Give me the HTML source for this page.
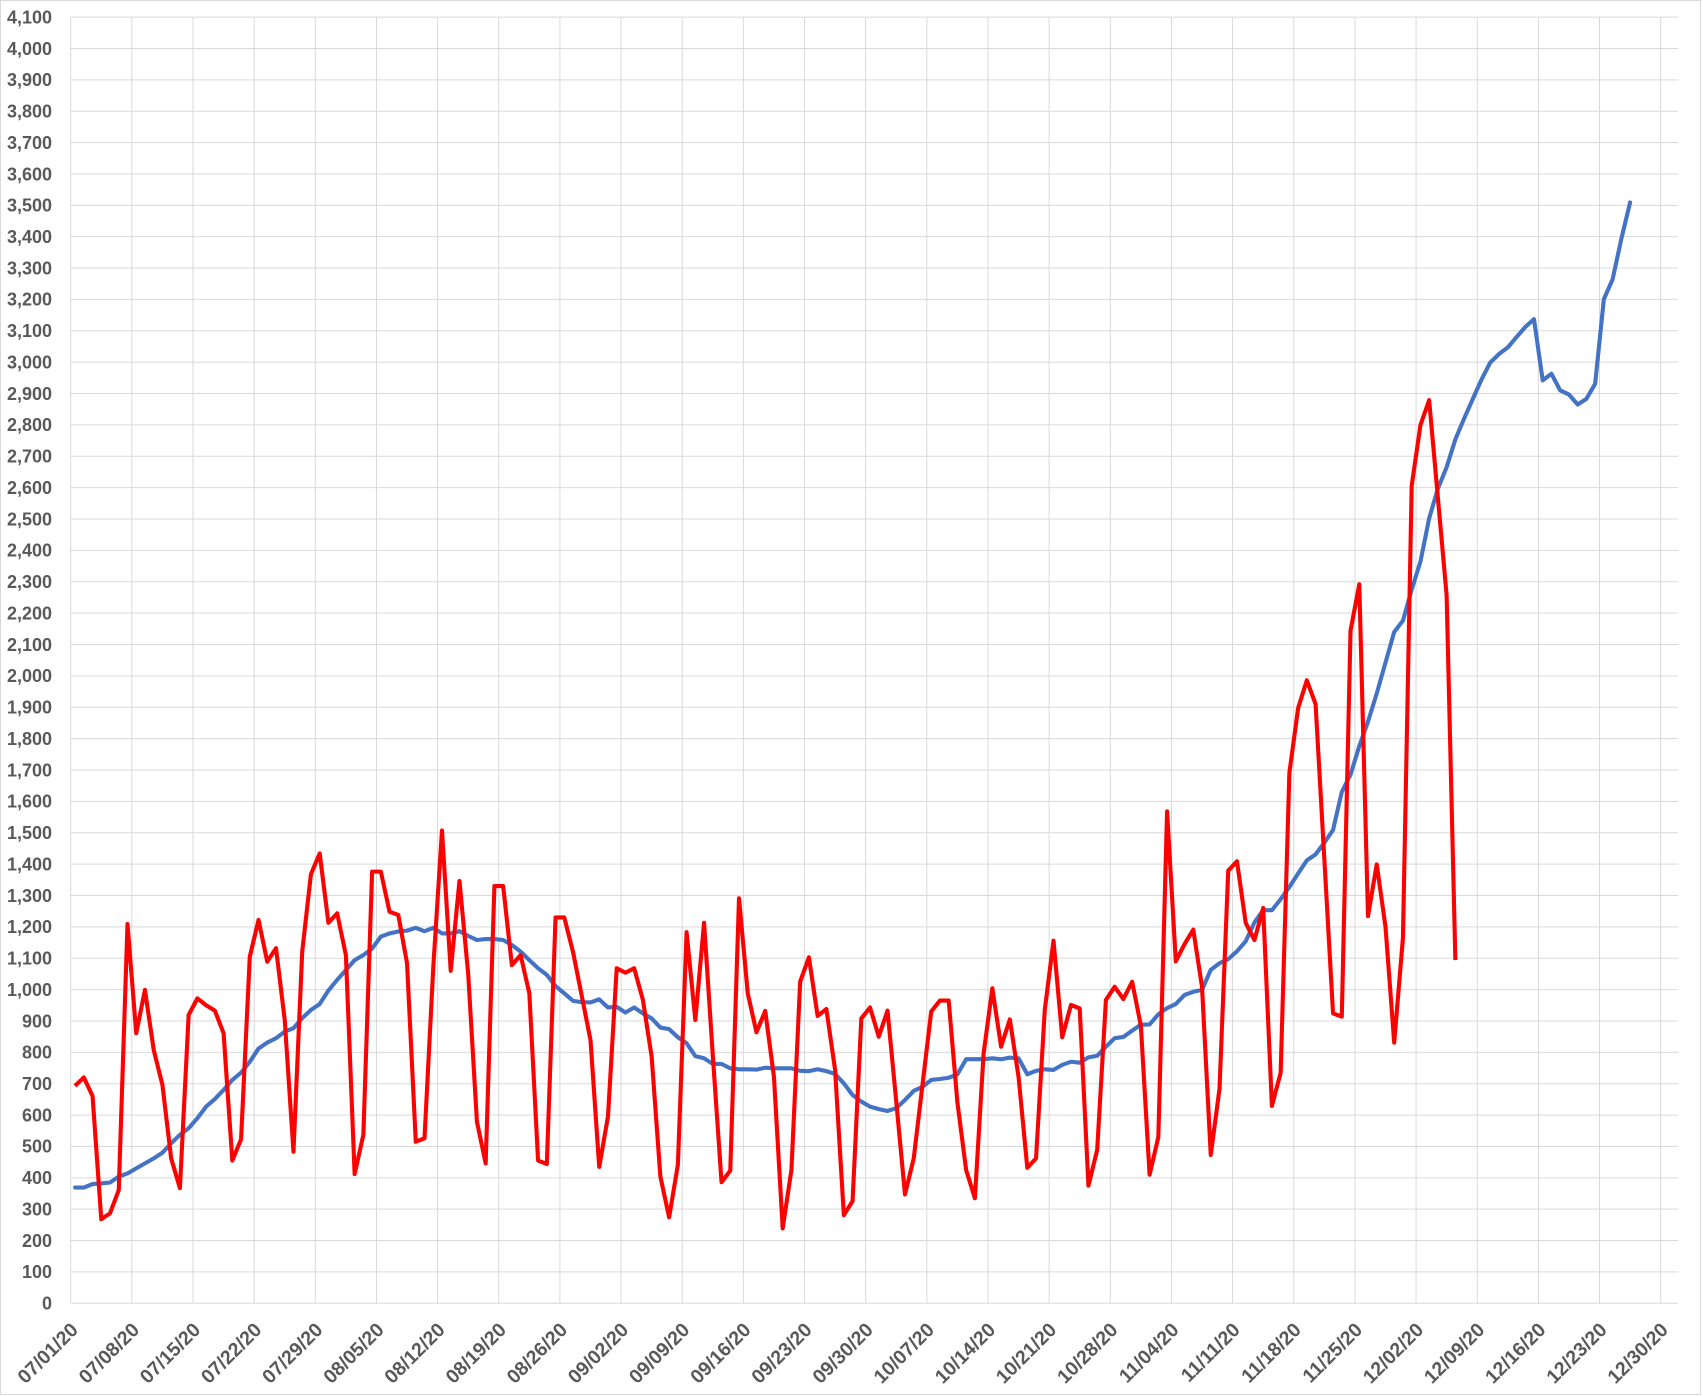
<!DOCTYPE html>
<html>
<head>
<meta charset="utf-8">
<style>
html,body{margin:0;padding:0;background:#fff;}
svg{display:block;}
text{font-family:"Liberation Sans",Arial,sans-serif;font-weight:bold;fill:#595959;}
</style>
</head>
<body>
<svg width="1703" height="1396" viewBox="0 0 1703 1396" xmlns="http://www.w3.org/2000/svg">
<rect x="0" y="0" width="1703" height="1396" fill="#ffffff"/>
<rect x="0.5" y="0.5" width="1700" height="1394" fill="none" stroke="#d9d9d9" stroke-width="1"/>

<g transform="matrix(8.736 0 0 -0.31371 75.07 1303.3)">
<path fill="none" stroke="#d9d9d9" stroke-width="1" vector-effect="non-scaling-stroke" d="M-0.5 0H183.5M-0.5 100H183.5M-0.5 200H183.5M-0.5 300H183.5M-0.5 400H183.5M-0.5 500H183.5M-0.5 600H183.5M-0.5 700H183.5M-0.5 800H183.5M-0.5 900H183.5M-0.5 1000H183.5M-0.5 1100H183.5M-0.5 1200H183.5M-0.5 1300H183.5M-0.5 1400H183.5M-0.5 1500H183.5M-0.5 1600H183.5M-0.5 1700H183.5M-0.5 1800H183.5M-0.5 1900H183.5M-0.5 2000H183.5M-0.5 2100H183.5M-0.5 2200H183.5M-0.5 2300H183.5M-0.5 2400H183.5M-0.5 2500H183.5M-0.5 2600H183.5M-0.5 2700H183.5M-0.5 2800H183.5M-0.5 2900H183.5M-0.5 3000H183.5M-0.5 3100H183.5M-0.5 3200H183.5M-0.5 3300H183.5M-0.5 3400H183.5M-0.5 3500H183.5M-0.5 3600H183.5M-0.5 3700H183.5M-0.5 3800H183.5M-0.5 3900H183.5M-0.5 4000H183.5M-0.5 4100H183.5"/>
<path fill="none" stroke="#d9d9d9" stroke-width="1" vector-effect="non-scaling-stroke" d="M-0.5 0V4100M6.5 0V4100M13.5 0V4100M20.5 0V4100M27.5 0V4100M34.5 0V4100M41.5 0V4100M48.5 0V4100M55.5 0V4100M62.5 0V4100M69.5 0V4100M76.5 0V4100M83.5 0V4100M90.5 0V4100M97.5 0V4100M104.5 0V4100M111.5 0V4100M118.5 0V4100M125.5 0V4100M132.5 0V4100M139.5 0V4100M146.5 0V4100M153.5 0V4100M160.5 0V4100M167.5 0V4100M174.5 0V4100M181.5 0V4100"/>

<polyline fill="none" stroke="#4472C4" stroke-width="4.1" stroke-linejoin="round" stroke-linecap="round" vector-effect="non-scaling-stroke" points="0,369 1,369 2,380 3,382 4,385 5,404 6,414 7,430 8,446 9,462 10,480 11,510 12,537 13,558 14,590 15,627 16,651 17,680 18,712 19,735 20,770 21,812 22,831 23,845 24,866 25,877 26,909 27,935 28,954 29,997 30,1031 31,1062 32,1094 33,1110 34,1131 35,1169 36,1179 37,1185 38,1188 39,1197 40,1186 41,1197 42,1179 43,1179 44,1186 45,1171 46,1158 47,1161 48,1161 49,1158 50,1142 51,1121 52,1094 53,1068 54,1047 55,1011 56,988 57,964 58,960 59,959 60,969 61,943 62,945 63,927 64,943 65,924 66,908 67,879 68,874 69,848 70,829 71,788 72,781 73,763 74,763 75,749 76,746 77,746 78,745 79,751 80,749 81,749 82,749 83,741 84,740 85,746 86,740 87,731 88,701 89,664 90,643 91,627 92,619 93,613 94,622 95,648 96,677 97,690 98,712 99,715 100,719 101,730 102,778 103,778 104,778 105,781 106,778 107,783 108,781 109,730 110,741 111,746 112,744 113,760 114,770 115,767 116,784 117,789 118,818 119,845 120,849 121,869 122,888 123,889 124,921 125,941 126,954 127,983 128,993 129,999 130,1063 131,1084 132,1097 133,1122 134,1154 135,1214 136,1253 137,1253 138,1288 139,1327 140,1370 141,1412 142,1431 143,1468 144,1509 145,1630 146,1685 147,1776 148,1854 149,1944 150,2042 151,2140 152,2176 153,2275 154,2364 155,2502 156,2597 157,2665 158,2754 159,2820 160,2883 161,2945 162,2999 163,3026 164,3047 165,3080 166,3112 167,3137 168,2942 169,2963 170,2910 171,2897 172,2865 173,2883 174,2931 175,3201 176,3264 177,3393 178,3509"/>

<polyline fill="none" stroke="#FF0000" stroke-width="4.1" stroke-linejoin="round" stroke-linecap="butt" vector-effect="non-scaling-stroke" points="0,693 1,720 2,661 3,268 4,287 5,361 6,1209 7,861 8,999 9,808 10,696 11,462 12,367 13,919 14,972 15,950 16,933 17,861 18,455 19,523 20,1105 21,1222 22,1089 23,1132 24,903 25,483 26,1121 27,1368 28,1434 29,1213 30,1243 31,1110 32,412 33,537 34,1376 35,1376 36,1248 37,1238 38,1084 39,515 40,526 41,1070 42,1507 43,1060 44,1346 45,1050 46,579 47,446 48,1330 49,1330 50,1078 51,1110 52,988 53,455 54,444 55,1230 56,1230 57,1120 58,980 59,839 60,435 61,595 62,1068 63,1054 64,1068 65,967 66,786 67,404 68,274 69,441 70,1183 71,903 72,1213 73,790 74,386 75,423 76,1291 77,988 78,864 79,932 80,722 81,239 82,425 83,1025 84,1103 85,916 86,938 87,744 88,281 89,326 90,908 91,943 92,850 93,933 94,643 95,347 96,462 97,696 98,930 99,965 100,965 101,640 102,425 103,335 104,797 105,1004 106,818 107,905 108,722 109,432 110,462 111,935 112,1156 113,848 114,951 115,940 116,375 117,489 118,967 119,1009 120,970 121,1025 122,885 123,410 124,530 125,1568 126,1090 127,1145 128,1191 129,1009 130,473 131,683 132,1379 133,1409 134,1213 135,1158 136,1260 137,629 138,735 139,1691 140,1897 141,1986 142,1910 143,1417 144,924 145,914 146,2144 147,2292 148,1234 149,1399 150,1201 151,831 152,1165 153,2606 154,2799 155,2879 156,2568 157,2257 158,1094"/>
</g>

<g font-size="18" text-anchor="end">
<text x="52" y="1309.6">0</text>
<text x="52" y="1278.2">100</text>
<text x="52" y="1246.9">200</text>
<text x="52" y="1215.5">300</text>
<text x="52" y="1184.1">400</text>
<text x="52" y="1152.7">500</text>
<text x="52" y="1121.4">600</text>
<text x="52" y="1090.0">700</text>
<text x="52" y="1058.6">800</text>
<text x="52" y="1027.3">900</text>
<text x="52" y="995.9">1,000</text>
<text x="52" y="964.5">1,100</text>
<text x="52" y="933.1">1,200</text>
<text x="52" y="901.8">1,300</text>
<text x="52" y="870.4">1,400</text>
<text x="52" y="839.0">1,500</text>
<text x="52" y="807.7">1,600</text>
<text x="52" y="776.3">1,700</text>
<text x="52" y="744.9">1,800</text>
<text x="52" y="713.6">1,900</text>
<text x="52" y="682.2">2,000</text>
<text x="52" y="650.8">2,100</text>
<text x="52" y="619.4">2,200</text>
<text x="52" y="588.1">2,300</text>
<text x="52" y="556.7">2,400</text>
<text x="52" y="525.3">2,500</text>
<text x="52" y="494.0">2,600</text>
<text x="52" y="462.6">2,700</text>
<text x="52" y="431.2">2,800</text>
<text x="52" y="399.8">2,900</text>
<text x="52" y="368.5">3,000</text>
<text x="52" y="337.1">3,100</text>
<text x="52" y="305.7">3,200</text>
<text x="52" y="274.4">3,300</text>
<text x="52" y="243.0">3,400</text>
<text x="52" y="211.6">3,500</text>
<text x="52" y="180.3">3,600</text>
<text x="52" y="148.9">3,700</text>
<text x="52" y="117.5">3,800</text>
<text x="52" y="86.1">3,900</text>
<text x="52" y="54.8">4,000</text>
<text x="52" y="23.4">4,100</text>
</g>

<g font-size="19.5" text-anchor="end">
<text x="79.2" y="1331" transform="rotate(-45 79.2 1331)">07/01/20</text>
<text x="140.4" y="1331" transform="rotate(-45 140.4 1331)">07/08/20</text>
<text x="201.5" y="1331" transform="rotate(-45 201.5 1331)">07/15/20</text>
<text x="262.7" y="1331" transform="rotate(-45 262.7 1331)">07/22/20</text>
<text x="323.8" y="1331" transform="rotate(-45 323.8 1331)">07/29/20</text>
<text x="385.0" y="1331" transform="rotate(-45 385.0 1331)">08/05/20</text>
<text x="446.1" y="1331" transform="rotate(-45 446.1 1331)">08/12/20</text>
<text x="507.3" y="1331" transform="rotate(-45 507.3 1331)">08/19/20</text>
<text x="568.4" y="1331" transform="rotate(-45 568.4 1331)">08/26/20</text>
<text x="629.6" y="1331" transform="rotate(-45 629.6 1331)">09/02/20</text>
<text x="690.7" y="1331" transform="rotate(-45 690.7 1331)">09/09/20</text>
<text x="751.9" y="1331" transform="rotate(-45 751.9 1331)">09/16/20</text>
<text x="813.0" y="1331" transform="rotate(-45 813.0 1331)">09/23/20</text>
<text x="874.2" y="1331" transform="rotate(-45 874.2 1331)">09/30/20</text>
<text x="935.3" y="1331" transform="rotate(-45 935.3 1331)">10/07/20</text>
<text x="996.5" y="1331" transform="rotate(-45 996.5 1331)">10/14/20</text>
<text x="1057.6" y="1331" transform="rotate(-45 1057.6 1331)">10/21/20</text>
<text x="1118.8" y="1331" transform="rotate(-45 1118.8 1331)">10/28/20</text>
<text x="1179.9" y="1331" transform="rotate(-45 1179.9 1331)">11/04/20</text>
<text x="1241.1" y="1331" transform="rotate(-45 1241.1 1331)">11/11/20</text>
<text x="1302.2" y="1331" transform="rotate(-45 1302.2 1331)">11/18/20</text>
<text x="1363.4" y="1331" transform="rotate(-45 1363.4 1331)">11/25/20</text>
<text x="1424.5" y="1331" transform="rotate(-45 1424.5 1331)">12/02/20</text>
<text x="1485.7" y="1331" transform="rotate(-45 1485.7 1331)">12/09/20</text>
<text x="1546.8" y="1331" transform="rotate(-45 1546.8 1331)">12/16/20</text>
<text x="1608.0" y="1331" transform="rotate(-45 1608.0 1331)">12/23/20</text>
<text x="1669.2" y="1331" transform="rotate(-45 1669.2 1331)">12/30/20</text>
</g>
</svg>
</body>
</html>
